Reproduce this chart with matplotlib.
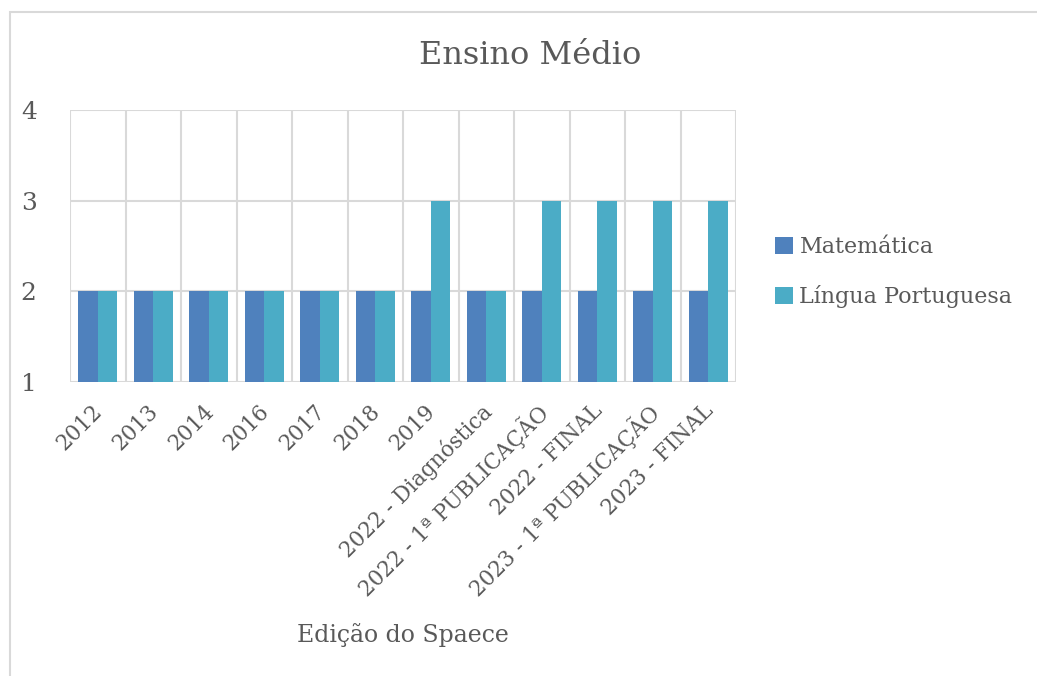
import matplotlib

matplotlib.use("Agg")
import matplotlib.pyplot as plt
import matplotlib.transforms as mtransforms
import numpy as np
from matplotlib.patches import Rectangle

# dados do gráfico
edicoes = [
    "2012", "2013", "2014", "2016", "2017", "2018", "2019",
    "2022 - Diagnóstica", "2022 - 1ª PUBLICAÇÃO", "2022 - FINAL",
    "2023 - 1ª PUBLICAÇÃO", "2023 - FINAL",
]
matematica = [2, 2, 2, 2, 2, 2, 2, 2, 2, 2, 2, 2]
lingua_portuguesa = [2, 2, 2, 2, 2, 2, 3, 2, 3, 3, 3, 3]
series_nomes = ["Matemática", "Língua Portuguesa"]

COR_MAT = "#4F81BD"
COR_LP = "#4BACC6"
COR_TEXTO = "#595959"
COR_GRADE = "#D9D9D9"

plt.rcParams["font.family"] = ["DejaVu Serif"]

W, H = 1037, 676
fig = plt.figure(figsize=(W / 100, H / 100), dpi=100)

# moldura externa do gráfico (cortada à direita e embaixo)
fig.patches.append(Rectangle((9.5 / W, -0.05), 1.2, 1 - 11.5 / H + 0.05,
                             transform=fig.transFigure, fill=False,
                             edgecolor=COR_GRADE, linewidth=1.5))

ax = fig.add_axes([70 / W, 1 - 382 / H, 666 / W, 272 / H])

x = np.arange(len(edicoes))
largura = 0.35
ax.bar(x - largura / 2, matematica, largura, color=COR_MAT, label=series_nomes[0], zorder=3)
ax.bar(x + largura / 2, lingua_portuguesa, largura, color=COR_LP, label=series_nomes[1], zorder=3)

ax.set_ylim(1, 4)
ax.set_xlim(-0.5, len(edicoes) - 0.5)
ax.set_yticks([1, 2, 3, 4])
ax.set_xticks(x)
ax.set_xticks(np.arange(-0.5, len(edicoes), 1), minor=True)
ax.set_xticklabels(edicoes, rotation=45, ha="right", rotation_mode="anchor",
                   fontsize=15.5, color=COR_TEXTO)
ax.tick_params(axis="y", labelsize=18, labelcolor=COR_TEXTO, length=0, pad=24)
ax.tick_params(axis="x", which="both", length=0, pad=13)

# desloca levemente os rótulos rotacionados para a esquerda
desloc = mtransforms.ScaledTranslation(-6 / 100, 0, fig.dpi_scale_trans)
for lbl in ax.get_xticklabels():
    lbl.set_transform(lbl.get_transform() + desloc)

ax.grid(axis="y", color=COR_GRADE, linewidth=1.5, zorder=0)
ax.grid(axis="x", which="minor", color=COR_GRADE, linewidth=1.5, zorder=0)
ax.grid(axis="x", which="major", visible=False)
for s in ax.spines.values():
    s.set_visible(False)

ax.set_xlabel("Edição do Spaece", fontsize=17, color=COR_TEXTO)
ax.xaxis.set_label_coords(0.5, -(623 - 382) / 272)

fig.text(530 / W, 1 - 55 / H, "Ensino Médio", fontsize=23, color=COR_TEXTO,
         ha="center", va="center")

leg = ax.legend(loc="center left", bbox_to_anchor=(755 / W, 1 - 272 / H),
                bbox_transform=fig.transFigure, frameon=False, fontsize=16,
                handlelength=0.8, handleheight=0.8, handletextpad=0.3,
                labelspacing=1.2, labelcolor=COR_TEXTO)

fig.savefig("out.png", dpi=100)
